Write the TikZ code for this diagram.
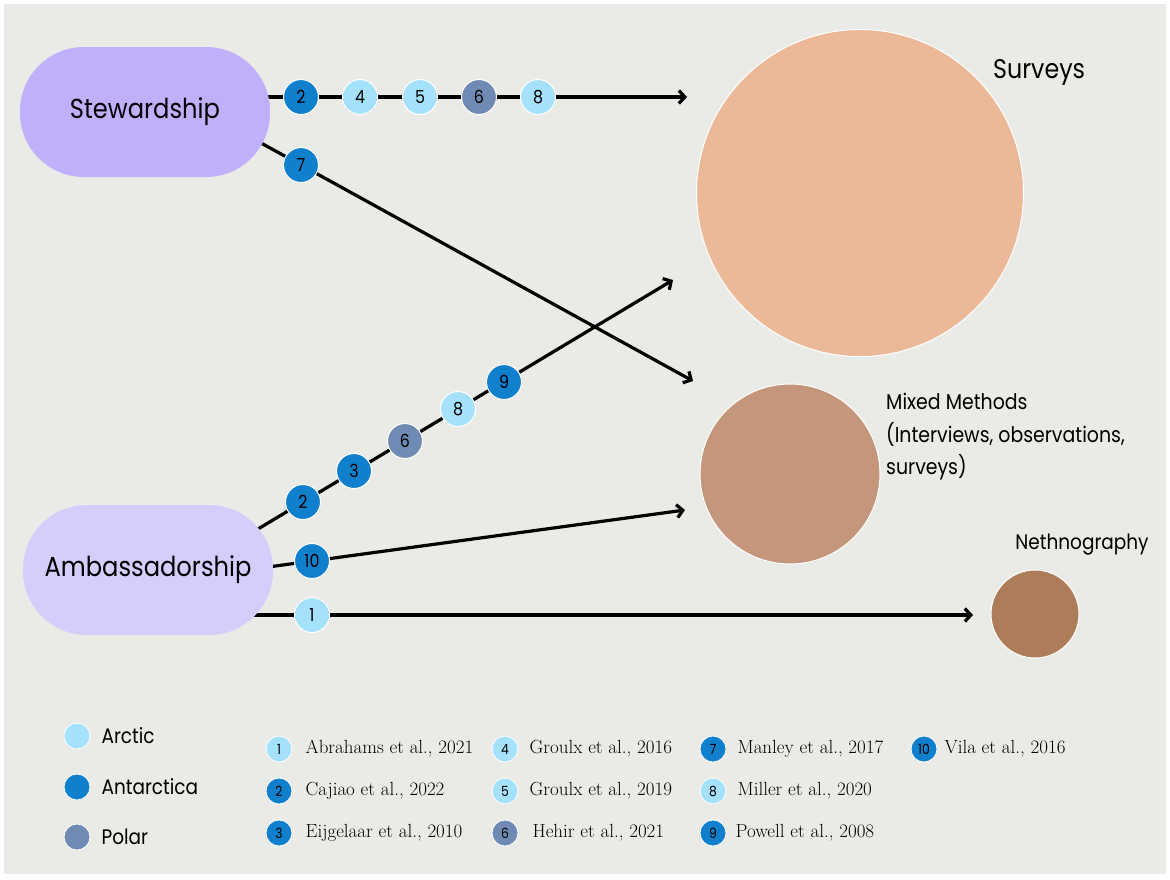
\documentclass[tikz,border=0pt]{standalone}
\usepackage{fontspec}
\setsansfont{Poppins}[FakeStretch=0.88]
\usetikzlibrary{positioning,calc,arrows.meta}

\definecolor{bgGray}{HTML}{EAEBE6}
\definecolor{stewFill}{HTML}{C0B0FC}
\definecolor{ambFill}{HTML}{D5CDFB}
\definecolor{arcticBlue}{HTML}{A6E1FB}
\definecolor{antarcBlue}{HTML}{1180CC}
\definecolor{polarBlue}{HTML}{6F8BB3}
\definecolor{surveyFill}{HTML}{EBB898}
\definecolor{mixedFill}{HTML}{C4967B}
\definecolor{nethFill}{HTML}{AD7C58}

\pgfdeclarelayer{backdrop}
\pgfdeclarelayer{links}
\pgfsetlayers{backdrop,links,main}

\tikzset{
	pill/.style={rounded corners=64pt, minimum width=250pt, minimum height=130pt, font=\sffamily\fontsize{27.5}{27.5}\selectfont},
	dot/.style={circle, draw=white, line width=1pt, minimum size=35pt, inner sep=0pt, font=\sffamily\fontsize{18}{18}\selectfont},
	keydot/.style={circle, draw=white, line width=.8pt, minimum size=26pt, inner sep=0pt, font=\sffamily\fontsize{14}{14}\selectfont},
	method/.style={circle, draw=white, line width=1pt, inner sep=0pt},
	label/.style={inner sep=0pt, font=\sffamily\fontsize{21}{32.5}\selectfont},
	cite/.style={inner sep=0pt, font=\fontsize{19}{19}\selectfont},
	link/.style={line width=3.2pt, -{Straight Barb[length=6pt,width=13pt]}},
}

\begin{document}
\begin{tikzpicture}[x=1pt, y=-1pt]
	\useasboundingbox (0,0) rectangle (1170,879);
	\begin{pgfonlayer}{backdrop}
		\fill[bgGray] (4,4) rectangle (1166,874);
	\end{pgfonlayer}

	% roles
	\node[pill, fill=stewFill] (stew) at (145,112) {Stewardship};
	\node[pill, fill=ambFill] (amb) at (148,570) {Ambassadorship};

	% methods
	\node[method, fill=surveyFill, minimum size=327pt] (surveys) at (860,193) {};
	\node[label, anchor=west, font=\sffamily\fontsize{27}{27}\selectfont] (surveysText) at (993,72) {Surveys};
	\node[method, fill=mixedFill, minimum size=180pt] (mixed) at (790,474) {};
	\node[label, anchor=north west, align=left, font=\sffamily\fontsize{21.5}{32.5}\selectfont] (mixedText) at (886,393) {Mixed Methods\\(Interviews, observations,\\surveys)};
	\node[method, fill=nethFill, minimum size=88pt] (neth) at (1035,614) {};
	\node[label] (nethText) at (1082,545) {Nethnography};

	% arrow ends
	\coordinate (tipStewSurv) at (687,97);
	\coordinate (tipStewMix) at (693,381);
	\coordinate (tipAmbSurv) at (673,280);
	\coordinate (tipAmbMix) at (685,510);
	\coordinate (tipAmbNeth) at (973,615);

	% studies on the stewardship arrows
	\node[dot, fill=antarcBlue] (s2) at (301,97) {2};
	\node[dot, fill=arcticBlue] (s4) at (360,97) {4};
	\node[dot, fill=arcticBlue] (s5) at (420,97) {5};
	\node[dot, fill=polarBlue] (s6) at (479,97) {6};
	\node[dot, fill=arcticBlue] (s8) at (538,97) {8};
	\node[dot, fill=antarcBlue] (s7) at (301,165) {7};

	% studies on the ambassadorship arrows
	\node[dot, fill=antarcBlue] (a2) at (303,502) {2};
	\node[dot, fill=antarcBlue] (a3) at (354,471) {3};
	\node[dot, fill=polarBlue] (a6) at (405,441) {6};
	\node[dot, fill=arcticBlue] (a8) at (458,409) {8};
	\node[dot, fill=antarcBlue] (a9) at (504,382) {9};
	\node[dot, fill=antarcBlue] (a10) at (312,561) {10};
	\node[dot, fill=arcticBlue] (a1) at (312,615) {1};

	\begin{pgfonlayer}{links}
		\draw[link] ($(s2)!-0.3!(tipStewSurv)$) -- (tipStewSurv);
		\draw[link] ($(s7)!-0.3!(tipStewMix)$) -- (tipStewMix);
		\draw[link] ($(a2)!-0.3!(tipAmbSurv)$) -- (tipAmbSurv);
		\draw[link] ($(a10)!-0.3!(tipAmbMix)$) -- (tipAmbMix);
		\draw[link] ($(a1)!-0.3!(tipAmbNeth)$) -- (tipAmbNeth);
	\end{pgfonlayer}

	% region key
	\node[keydot, fill=arcticBlue] (keyArctic) at (77,736) {};
	\node[label, right=11pt of keyArctic] (keyArcticText) {Arctic};
	\node[keydot, fill=antarcBlue] (keyAntarc) at (77,787) {};
	\node[label, right=11pt of keyAntarc] (keyAntarcText) {Antarctica};
	\node[keydot, fill=polarBlue] (keyPolar) at (77,837) {};
	\node[label, right=11pt of keyPolar] (keyPolarText) {Polar};

	% study key
	\node[keydot, fill=arcticBlue] (key1) at (279,749) {1};
	\node[cite, right=13pt of key1] (cite1) {Abrahams et al., 2021};
	\node[keydot, fill=antarcBlue] (key2) at (279,791) {2};
	\node[cite, right=13pt of key2] (cite2) {Cajiao et al., 2022};
	\node[keydot, fill=antarcBlue] (key3) at (279,833) {3};
	\node[cite, right=13pt of key3] (cite3) {Eijgelaar et al., 2010};
	\node[keydot, fill=arcticBlue] (key4) at (505,749) {4};
	\node[cite, right=11pt of key4] (cite4) {Groulx et al., 2016};
	\node[keydot, fill=arcticBlue] (key5) at (505,791) {5};
	\node[cite, right=11pt of key5] (cite5) {Groulx et al., 2019};
	\node[keydot, fill=polarBlue] (key6) at (505,833) {6};
	\node[cite, right=14pt of key6] (cite6) {Hehir et al., 2021};
	\node[keydot, fill=antarcBlue] (key7) at (713,749) {7};
	\node[cite, right=11pt of key7] (cite7) {Manley et al., 2017};
	\node[keydot, fill=arcticBlue] (key8) at (713,791) {8};
	\node[cite, right=11pt of key8] (cite8) {Miller et al., 2020};
	\node[keydot, fill=antarcBlue] (key9) at (713,833) {9};
	\node[cite, right=9pt of key9] (cite9) {Powell et al., 2008};
	\node[keydot, fill=antarcBlue] (key10) at (924,749) {10};
	\node[cite, right=7pt of key10] (cite10) {Vila et al., 2016};
\end{tikzpicture}
\end{document}
